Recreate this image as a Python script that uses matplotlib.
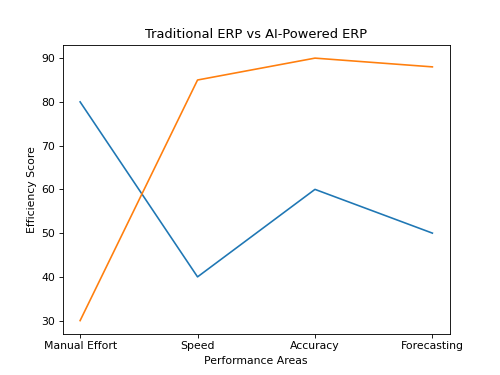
import matplotlib
matplotlib.use("Agg")
import matplotlib.pyplot as plt

# data
areas = ["Manual Effort", "Speed", "Accuracy", "Forecasting"]
traditional = [80, 40, 60, 50]
ai_powered = [30, 85, 90, 88]

fig, ax = plt.subplots(figsize=(6.4, 4.8), dpi=78.125)

ax.plot(areas, traditional, label="Traditional ERP")
ax.plot(areas, ai_powered, label="AI-Powered ERP")

ax.set_title("Traditional ERP vs AI-Powered ERP")
ax.set_xlabel("Performance Areas")
ax.set_ylabel("Efficiency Score")

fig.savefig("out.png", dpi=78.125)
